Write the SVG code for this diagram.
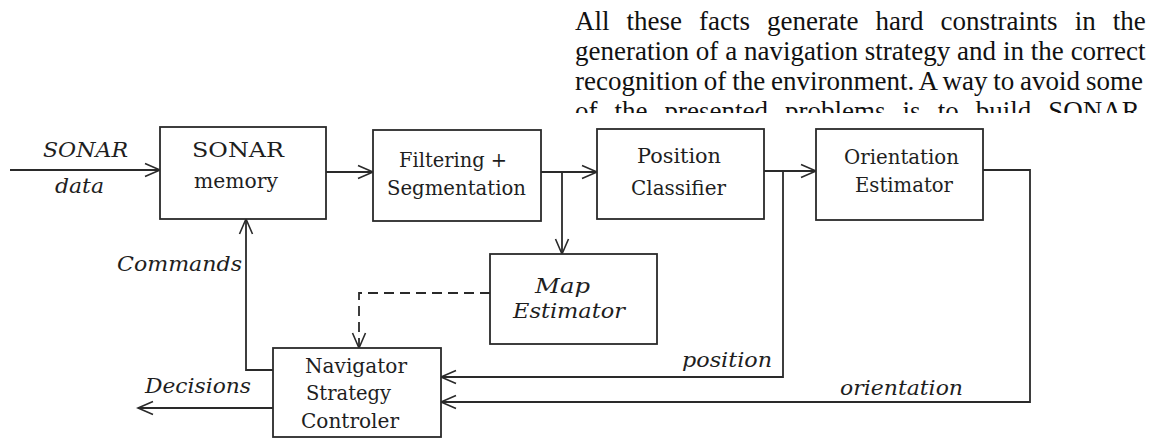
<svg xmlns="http://www.w3.org/2000/svg" width="1160" height="439" viewBox="0 0 1160 439">
<style>
.box{fill:#fff;stroke:#2a2a2a;stroke-width:1.8}
.ln{fill:none;stroke:#2a2a2a;stroke-width:1.8}
.dash{fill:none;stroke:#2a2a2a;stroke-width:1.8;stroke-dasharray:10 6}
.t{font-family:"DejaVu Serif","Liberation Serif",serif;font-size:20px;fill:#1e1e1e}
.i{font-style:italic}
.p{font-family:"Liberation Serif","Times New Roman",serif;font-size:27px;fill:#111}
</style>
<defs>
<marker id="arr" markerUnits="userSpaceOnUse" markerWidth="18" markerHeight="16" viewBox="0 0 18 16" refX="16" refY="8" orient="auto">
<path d="M1,1.5 L16,8 L1,14.5" fill="none" stroke="#2a2a2a" stroke-width="1.6"/>
</marker>
<clipPath id="cut"><rect x="0" y="0" width="1160" height="113"/></clipPath>
</defs>
<rect width="1160" height="439" fill="#fff"/>
<g id="paragraph">
<text class="p" x="575" y="30" word-spacing="10.3">All these facts generate hard constraints in the</text>
<text class="p" x="575" y="60" word-spacing="0.1">generation of a navigation strategy and in the correct</text>
<text class="p" x="575" y="90" word-spacing="-0.9">recognition of the environment. A way to avoid some</text>
<text class="p" x="575" y="120" word-spacing="10.3" clip-path="url(#cut)">of the presented problems is to build SONAR</text>
</g>
<g id="connectors">
<path class="ln" d="M10,170 H160" marker-end="url(#arr)"/>
<path class="ln" d="M326,172 H373" marker-end="url(#arr)"/>
<path class="ln" d="M541,172 H597" marker-end="url(#arr)"/>
<path class="ln" d="M562,172 V254" marker-end="url(#arr)"/>
<path class="ln" d="M764,171 H816" marker-end="url(#arr)"/>
<path class="ln" d="M783,171 V377 H441" marker-end="url(#arr)"/>
<path class="ln" d="M983,170 H1030 V402 H441" marker-end="url(#arr)"/>
<path class="dash" d="M490,293 H359 V348" marker-end="url(#arr)"/>
<path class="ln" d="M273,370 H246 V219" marker-end="url(#arr)"/>
<path class="ln" d="M273,408 H138" marker-end="url(#arr)"/>
<text class="t i" x="43" y="157" textLength="85" lengthAdjust="spacingAndGlyphs">SONAR</text>
<text class="t i" x="55" y="193" textLength="49" lengthAdjust="spacingAndGlyphs">data</text>
<text class="t i" x="117" y="271" textLength="125" lengthAdjust="spacingAndGlyphs">Commands</text>
<text class="t i" x="145" y="393" textLength="106" lengthAdjust="spacingAndGlyphs">Decisions</text>
<text class="t i" x="682" y="367" textLength="90" lengthAdjust="spacingAndGlyphs">position</text>
<text class="t i" x="840" y="395" textLength="123" lengthAdjust="spacingAndGlyphs">orientation</text>
</g>
<g id="sonar-memory">
<rect class="box" x="160" y="127" width="166" height="92"/>
<text class="t" x="192" y="157" textLength="92" lengthAdjust="spacingAndGlyphs">SONAR</text>
<text class="t" x="194" y="188" textLength="84" lengthAdjust="spacingAndGlyphs">memory</text>
</g>
<g id="filtering">
<rect class="box" x="373" y="130" width="168" height="91"/>
<text class="t" x="399" y="167" textLength="108" lengthAdjust="spacingAndGlyphs">Filtering +</text>
<text class="t" x="387" y="195" textLength="139" lengthAdjust="spacingAndGlyphs">Segmentation</text>
</g>
<g id="position-classifier">
<rect class="box" x="597" y="129" width="167" height="90"/>
<text class="t" x="637" y="163" textLength="84" lengthAdjust="spacingAndGlyphs">Position</text>
<text class="t" x="631" y="195" textLength="95" lengthAdjust="spacingAndGlyphs">Classifier</text>
</g>
<g id="orientation-estimator">
<rect class="box" x="816" y="129" width="167" height="91"/>
<text class="t" x="844" y="164" textLength="115" lengthAdjust="spacingAndGlyphs">Orientation</text>
<text class="t" x="855" y="192" textLength="98" lengthAdjust="spacingAndGlyphs">Estimator</text>
</g>
<g id="map-estimator">
<rect class="box" x="490" y="254" width="167" height="90"/>
<text class="t i" x="535" y="293" textLength="55" lengthAdjust="spacingAndGlyphs">Map</text>
<text class="t i" x="513" y="318" textLength="112" lengthAdjust="spacingAndGlyphs">Estimator</text>
</g>
<g id="navigator">
<rect class="box" x="273" y="348" width="168" height="89"/>
<text class="t" x="305" y="373" textLength="102" lengthAdjust="spacingAndGlyphs">Navigator</text>
<text class="t" x="306" y="400" textLength="85" lengthAdjust="spacingAndGlyphs">Strategy</text>
<text class="t" x="301" y="428" textLength="98" lengthAdjust="spacingAndGlyphs">Controler</text>
</g>
</svg>
